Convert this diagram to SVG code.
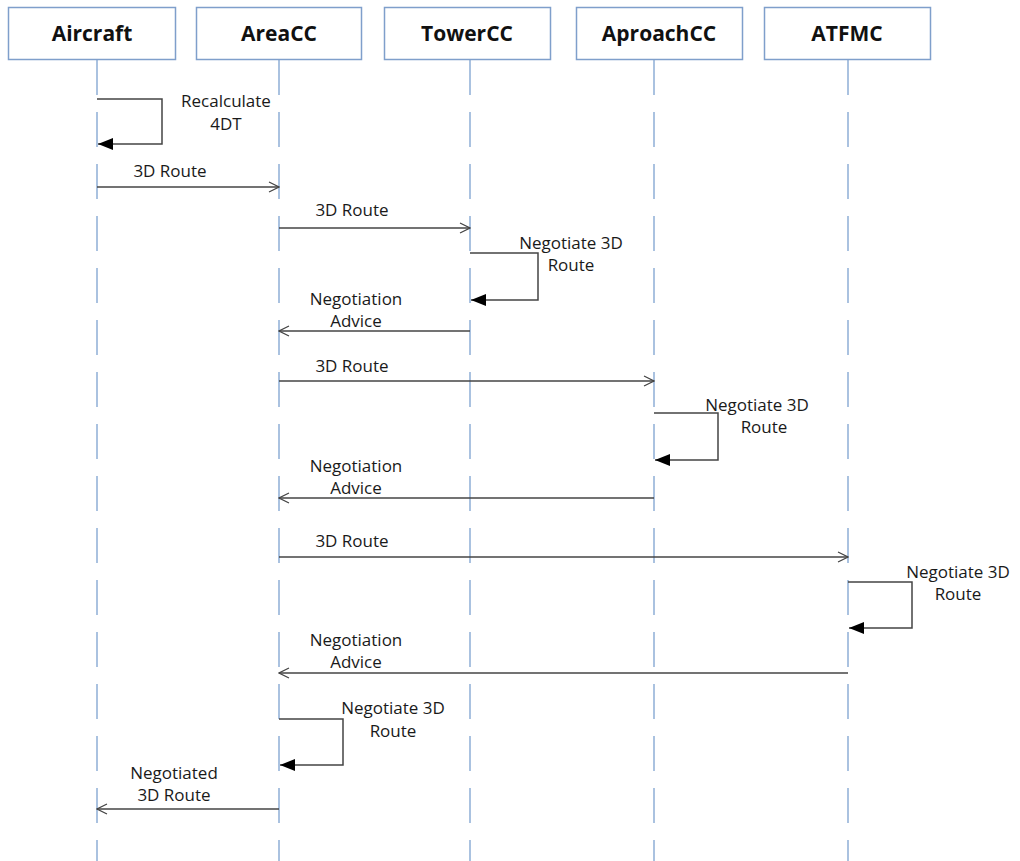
<svg xmlns="http://www.w3.org/2000/svg" width="1020" height="861" viewBox="0 0 1020 861">
<defs>
<marker id="open" markerWidth="12" markerHeight="12" refX="11" refY="6" orient="auto" markerUnits="userSpaceOnUse">
<path d="M1,1 L11,6 L1,11" fill="none" stroke="#444" stroke-width="1.2"/>
</marker>
<marker id="solid" markerWidth="16" markerHeight="12" refX="15" refY="6" orient="auto" markerUnits="userSpaceOnUse">
<path d="M0,0 L15,6 L0,12 Z" fill="#000"/>
</marker>
</defs>
<style>
.box{fill:#fff;stroke:#7f9fcb;stroke-width:1.5}
.head{font-family:"Open Sans","Noto Sans","DejaVu Sans",sans-serif;font-weight:bold;font-size:21px;fill:#111;text-anchor:middle}
.life{stroke:#8eafd6;stroke-width:1.5;stroke-dasharray:35 17}
.msg{stroke:#444;stroke-width:1.3;fill:none}
.self{stroke:#444;stroke-width:1.5;fill:none}
.lbl{font-family:"Open Sans","Noto Sans","DejaVu Sans",sans-serif;font-size:17px;fill:#1a1a1a;text-anchor:middle}
</style>
<rect width="1020" height="861" fill="#fff"/>
<g id="lifelines">
<line class="life" x1="97" y1="60" x2="97" y2="861"/>
<line class="life" x1="279" y1="60" x2="279" y2="861"/>
<line class="life" x1="470" y1="60" x2="470" y2="861"/>
<line class="life" x1="654" y1="60" x2="654" y2="861"/>
<line class="life" x1="848" y1="60" x2="848" y2="861"/>
</g>
<g id="aircraft"><rect class="box" x="8.5" y="7.5" width="167" height="52"/><text class="head" x="92" y="41">Aircraft</text></g>
<g id="areacc"><rect class="box" x="196.5" y="7.5" width="165" height="52"/><text class="head" x="279" y="41">AreaCC</text></g>
<g id="towercc"><rect class="box" x="384.5" y="7.5" width="166" height="52"/><text class="head" x="467" y="41">TowerCC</text></g>
<g id="aproachcc"><rect class="box" x="576.5" y="7.5" width="166" height="52"/><text class="head" x="659" y="41">AproachCC</text></g>
<g id="atfmc"><rect class="box" x="764.5" y="7.5" width="166" height="52"/><text class="head" x="847" y="41">ATFMC</text></g>
<g id="connectors">
<path class="self" d="M97,99 H162 V144 H98" marker-end="url(#solid)"/>
<line class="msg" x1="97" y1="187" x2="279" y2="187" marker-end="url(#open)"/>
<line class="msg" x1="279" y1="228" x2="470" y2="228" marker-end="url(#open)"/>
<path class="self" d="M470,253 H538 V300 H471" marker-end="url(#solid)"/>
<line class="msg" x1="470" y1="331" x2="279" y2="331" marker-end="url(#open)"/>
<line class="msg" x1="279" y1="381" x2="654" y2="381" marker-end="url(#open)"/>
<path class="self" d="M654,413 H718 V460 H655" marker-end="url(#solid)"/>
<line class="msg" x1="654" y1="498" x2="279" y2="498" marker-end="url(#open)"/>
<line class="msg" x1="279" y1="557" x2="848" y2="557" marker-end="url(#open)"/>
<path class="self" d="M848,582 H912 V628 H849" marker-end="url(#solid)"/>
<line class="msg" x1="848" y1="673" x2="279" y2="673" marker-end="url(#open)"/>
<path class="self" d="M279,719 H343 V765 H280" marker-end="url(#solid)"/>
<line class="msg" x1="279" y1="809" x2="97" y2="809" marker-end="url(#open)"/>
</g>
<g id="labels">
<text class="lbl" x="226" y="107">Recalculate</text>
<text class="lbl" x="226" y="130">4DT</text>
<text class="lbl" x="170" y="177">3D Route</text>
<text class="lbl" x="352" y="216">3D Route</text>
<text class="lbl" x="571" y="249">Negotiate 3D</text>
<text class="lbl" x="571" y="271">Route</text>
<text class="lbl" x="356" y="305">Negotiation</text>
<text class="lbl" x="356" y="327">Advice</text>
<text class="lbl" x="352" y="372">3D Route</text>
<text class="lbl" x="757" y="411">Negotiate 3D</text>
<text class="lbl" x="764" y="433">Route</text>
<text class="lbl" x="356" y="472">Negotiation</text>
<text class="lbl" x="356" y="494">Advice</text>
<text class="lbl" x="352" y="547">3D Route</text>
<text class="lbl" x="958" y="578">Negotiate 3D</text>
<text class="lbl" x="958" y="600">Route</text>
<text class="lbl" x="356" y="646">Negotiation</text>
<text class="lbl" x="356" y="668">Advice</text>
<text class="lbl" x="393" y="714">Negotiate 3D</text>
<text class="lbl" x="393" y="737">Route</text>
<text class="lbl" x="174" y="779">Negotiated</text>
<text class="lbl" x="174" y="801">3D Route</text>
</g>
</svg>
